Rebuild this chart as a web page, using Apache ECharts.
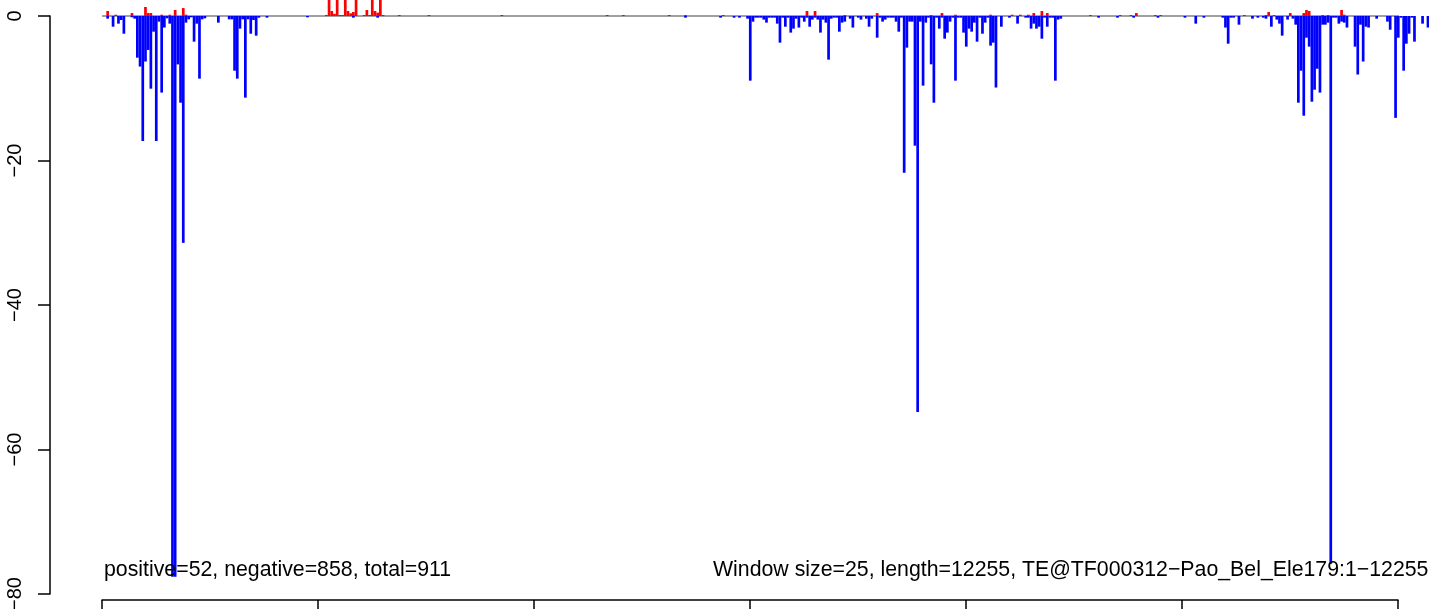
<!DOCTYPE html>
<html>
<head>
<meta charset="utf-8">
<script src="https://cdn.jsdelivr.net/npm/echarts@6/dist/echarts.min.js"></script>
<style>html,body{margin:0;padding:0;background:#fff;overflow:hidden;}#c{width:1429px;height:609px;}</style>
</head>
<body>
<div id="c"></div>
<script>
var WINDOW = 25;
var LENGTH = 12255;
var xTicks = [0, 2000, 4000, 6000, 8000, 10000, 12000];
var yTicks = [-80, -60, -40, -20, 0];
var leftNote = 'positive=52, negative=858, total=911';
var rightNote = 'Window size=25, length=12255, TE@TF000312\u2212Pao_Bel_Ele179:1\u221212255';

var posWin = [1,4,10,15,16,17,21,24,26,29,30,
  82,83,84,85,86,87,88,89,90,91,92,93,96,97,98,99,100,101,102,103,109,120,
  147,186,192,209,215,229,260,263,274,286,
  306,310,315,328,336,339,342,344,347,349,
  365,376,380,382,389,391,422,430,431,433,439,444,445,446,451,453,458,459];
var posVal = [0.69,0.18,0.41,1.25,0.41,0.41,0.18,0.18,0.83,1.1,0.18,
  0.14,3.5,0.69,0.3,3.5,0.14,0.14,3.5,0.69,0.37,0.55,3.5,0.14,0.83,0.14,3.5,0.69,0.46,3.5,0.14,0.14,0.14,
  0.14,0.14,0.14,0.14,0.14,0.14,0.69,0.69,0.14,0.41,
  0.14,0.41,0.18,0.18,0.18,0.18,0.18,0.41,0.69,0.41,
  0.14,0.14,0.14,0.41,0.14,0.14,0.14,0.14,0.55,0.14,0.41,0.41,0.83,0.69,0.14,0.14,0.83,0.18];

var negWin = [1,3,5,6,7,10,11,12,13,14,15,16,17,18,19,20,21,22,23,24,25,26,27,28,29,30,31,32,33,34,35,36,37,42,46,47,48,49,50,51,52,53,54,55,56,57,60,
  75,92,101,
  215,228,233,235,238,239,240,241,242,243,244,245,246,247,248,249,250,251,252,253,254,255,256,257,258,259,260,261,262,263,264,265,266,267,268,269,270,271,272,273,274,276,277,279,280,282,283,284,286,287,288,289,290,291,292,293,294,295,296,297,298,299,300,301,302,303,304,305,306,307,308,309,310,311,312,313,314,315,316,317,318,319,320,321,322,323,324,325,326,327,328,329,330,332,335,338,341,342,343,344,345,346,347,348,349,350,351,352,353,354,
  368,375,381,390,400,404,407,414,415,416,417,418,420,425,427,429,430,432,434,435,436,438,440,441,442,443,444,445,446,447,448,449,450,451,452,453,454,455,456,457,458,459,460,463,464,465,466,467,468,471,475,476,478,479,480,481,482,483,484,485,488,490];
var negVal = [-0.37,-1.48,-1.06,-0.55,-2.45,-0.18,-0.37,-5.77,-7.0,-17.3,-6.3,-4.7,-10.06,-2.17,-17.3,-0.78,-10.6,-1.6,-0.32,-1.06,-77.6,-77.6,-6.7,-12.0,-31.4,-0.92,-0.46,-0.18,-3.55,-1.06,-8.67,-0.46,-0.32,-0.92,-0.46,-0.46,-7.57,-8.67,-1.75,-0.46,-11.3,-0.46,-2.45,-0.55,-2.72,-0.23,-0.23,
  -0.18,-0.23,-0.23,
  -0.23,-0.23,-0.23,-0.23,-0.37,-8.95,-0.78,-0.23,-0.23,-0.23,-0.5,-0.92,-0.23,-0.23,-0.23,-1.06,-3.69,-0.23,-1.48,-0.23,-2.3,-1.75,-0.37,-1.6,-0.23,-0.78,-0.23,-1.48,-0.5,-0.23,-0.5,-2.3,-0.5,-0.92,-6.04,-0.37,-0.23,-0.23,-2.17,-0.92,-0.78,-0.37,-1.6,-0.23,-0.5,-0.37,-1.48,-0.37,-3.0,-0.23,-0.78,-0.5,-0.23,-0.23,-0.23,-0.78,-2.17,-0.23,-21.7,-4.38,-0.78,-0.78,-17.95,-54.8,-0.78,-9.64,-0.92,-0.23,-6.69,-12.0,-0.23,-1.75,-0.23,-3.14,-2.3,-0.78,-0.23,-8.95,-0.23,-0.23,-2.3,-4.24,-1.75,-2.17,-0.92,-3.55,-0.23,-2.45,-0.92,-0.23,-4.1,-3.69,-9.9,-1.48,-0.23,-1.06,-0.23,-0.23,-1.75,-1.06,-1.75,-1.48,-3.14,-0.23,-1.48,-0.23,-0.23,-8.95,-0.5,-0.37,
  -0.23,-0.23,-0.23,-0.23,-0.23,-1.06,-0.23,-0.23,-1.6,-3.83,-0.23,-0.23,-1.2,-0.37,-0.23,-0.23,-0.37,-1.48,-0.5,-1.06,-2.72,-0.5,-0.37,-1.2,-12.0,-7.57,-13.8,-3.0,-4.24,-11.86,-10.2,-7.3,-10.6,-1.2,-1.2,-0.92,-75.8,-0.23,-0.23,-1.06,-0.78,-0.92,-1.6,-4.24,-8.1,-1.2,-6.3,-1.48,-1.6,-0.37,-0.78,-1.9,-14.1,-3.0,-0.23,-7.57,-3.83,-2.45,-0.23,-3.55,-1.06,-1.6];

function toPoints(win, vals) {
  return win.map(function (w, i) { return [(w + 1.1) * WINDOW, vals[i]]; });
}

var GRID = { left: 102, right: 31, top: 16, bottom: 15, outerBoundsMode: 'none', containLabel: false };
var plotWidth = 1429 - GRID.left - GRID.right;
var xMax = xTicks[xTicks.length - 1];
var barW = WINDOW * plotWidth / xMax;
var FONT = 'Liberation Sans, Arial, Helvetica, sans-serif';

var chart = echarts.init(document.getElementById('c'), null, { renderer: 'canvas' });
chart.setOption({
  animation: false,
  backgroundColor: '#ffffff',
  title: [
    { text: leftNote, left: 104, top: 560, padding: 0,
      textStyle: { fontFamily: FONT, fontSize: 21.3, fontWeight: 'normal', color: '#000' } },
    { text: rightNote, left: 713, top: 560, padding: 0,
      textStyle: { fontFamily: FONT, fontSize: 21.3, fontWeight: 'normal', color: '#000' } }
  ],
  grid: GRID,
  xAxis: {
    type: 'value', min: xTicks[0], max: xMax, interval: xTicks[1] - xTicks[0],
    position: 'bottom', offset: 6,
    axisLine: { show: true, onZero: false, lineStyle: { color: '#000', width: 1.5 } },
    axisTick: { show: true, length: 12, lineStyle: { color: '#000', width: 1.5 } },
    axisLabel: { show: false },
    splitLine: { show: false }
  },
  yAxis: {
    type: 'value', min: yTicks[0], max: yTicks[yTicks.length - 1], interval: yTicks[1] - yTicks[0],
    position: 'left', offset: 52,
    axisLine: { show: true, onZero: false, lineStyle: { color: '#000', width: 1.5 } },
    axisTick: { show: true, length: 12, lineStyle: { color: '#000', width: 1.5 } },
    axisLabel: {
      rotate: 90, margin: 25, color: '#000', fontFamily: FONT, fontSize: 20,
      formatter: function (v) { return String(v).replace('-', '\u2212'); }
    },
    splitLine: { show: false }
  },
  series: [
    {
      type: 'line', data: [[0, 0], [LENGTH, 0]], symbol: 'none', clip: false, z: 1,
      lineStyle: { color: '#a0a0a0', width: 2 }, silent: true
    },
    {
      type: 'bar', name: 'positive', data: toPoints(posWin, posVal), barWidth: barW, barGap: '-100%',
      clip: false, z: 2, itemStyle: { color: '#ff0000' }
    },
    {
      type: 'bar', name: 'negative', data: toPoints(negWin, negVal), barWidth: barW, barGap: '-100%',
      clip: false, z: 2, itemStyle: { color: '#0000ff' }
    }
  ]
});
</script>
</body>
</html>
